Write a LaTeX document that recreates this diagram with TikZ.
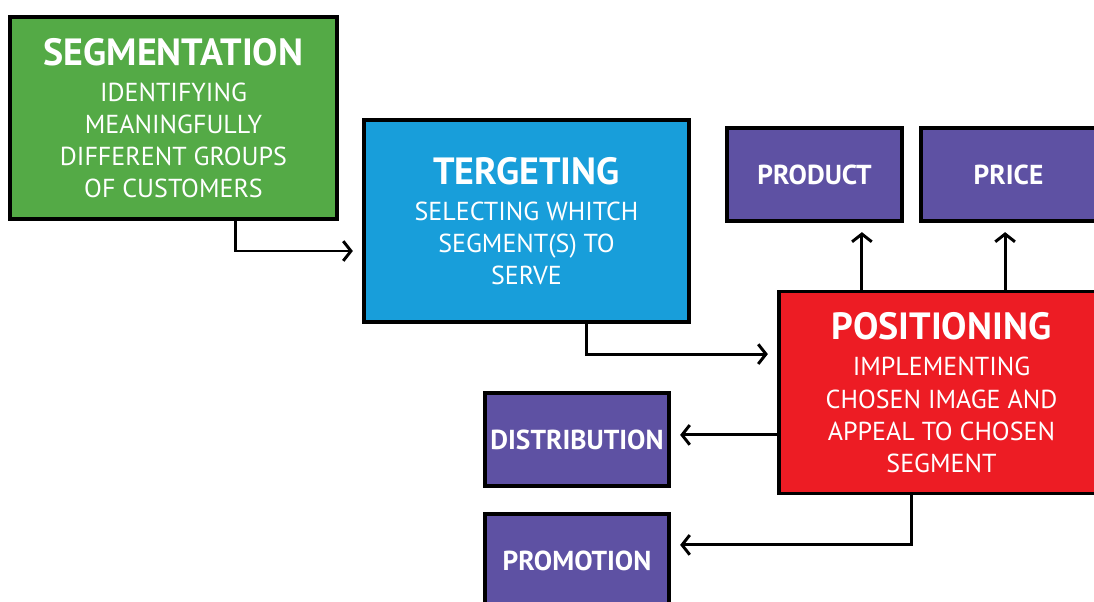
\documentclass[tikz,border=0pt]{standalone}
\usepackage{fontspec}
\setmainfont{PT Sans}
\usepackage{tikz}
\usepackage{xcolor}
\usetikzlibrary{arrows.meta}
\definecolor{stpgreen}{RGB}{84,170,70}
\definecolor{stpblue}{RGB}{24,158,218}
\definecolor{stppurple}{RGB}{94,81,163}
\definecolor{stpred}{RGB}{237,28,36}
\newcommand{\stptitle}[1]{{\fontsize{27}{28}\selectfont\bfseries #1}}

\begin{document}
\begin{tikzpicture}[
    box/.style={draw=black, line width=2.2pt, text=white, align=center, inner sep=0pt},
    bigbox/.style={box, font=\fontsize{18.5}{22.8}\selectfont, minimum height=5.05cm},
    mixbox/.style={box, fill=stppurple, font=\fontsize{19.5}{22}\selectfont\bfseries, minimum height=2.325cm},
    conn/.style={line width=2.1pt, -{Straight Barb[length=5.5pt,width=14pt,line width=2.1pt]}, shorten >=0.24cm}
]
    \clip (0,0) rectangle (27.35,-15.025);

    % Segmentation
    \node[bigbox, fill=stpgreen, minimum width=8.175cm] (seg) at (4.3375,-2.95)
        {\stptitle{SEGMENTATION}\\[3pt]
         IDENTIFYING\\MEANINGFULLY\\DIFFERENT GROUPS\\OF CUSTOMERS};

    % Targeting
    \node[bigbox, fill=stpblue, minimum width=8.125cm] (tar) at (13.1625,-5.525)
        {\stptitle{TERGETING}\\[3pt]
         SELECTING WHITCH\\SEGMENT(S) TO\\SERVE};

    % Positioning
    \node[bigbox, fill=stpred, minimum width=8.125cm] (pos) at (23.5375,-9.8125)
        {\stptitle{POSITIONING}\\[3pt]
         IMPLEMENTING\\CHOSEN IMAGE AND\\APPEAL TO CHOSEN\\SEGMENT};

    % Marketing mix
    \node[mixbox, minimum width=4.375cm] (prod) at (20.3625,-4.3625) {PRODUCT};
    \node[mixbox, minimum width=4.375cm] (price) at (25.2125,-4.3625) {PRICE};
    \node[mixbox, minimum width=4.6cm] (dist) at (14.425,-10.9875) {DISTRIBUTION};
    \node[mixbox, minimum width=4.6cm] (promo) at (14.425,-14.0125) {PROMOTION};

    % Arrows
    \draw[conn] ([xshift=1.54cm]seg.south) |- ([yshift=-0.75cm]tar.west);
    \draw[conn] ([xshift=1.51cm]tar.south) |- ([yshift=0.96cm]pos.west);
    \draw[conn] ([xshift=-1.99cm]pos.north) -- ([xshift=-1.99cm]pos.north |- prod.south);
    \draw[conn] ([xshift=1.59cm]pos.north) -- ([xshift=1.59cm]pos.north |- price.south);
    \draw[conn] ([yshift=-1.06cm]pos.west) -- ([yshift=-1.06cm]pos.west -| dist.east);
    \draw[conn] ([xshift=-0.74cm]pos.south) |- ([yshift=0.39cm]promo.east);
\end{tikzpicture}
\end{document}
